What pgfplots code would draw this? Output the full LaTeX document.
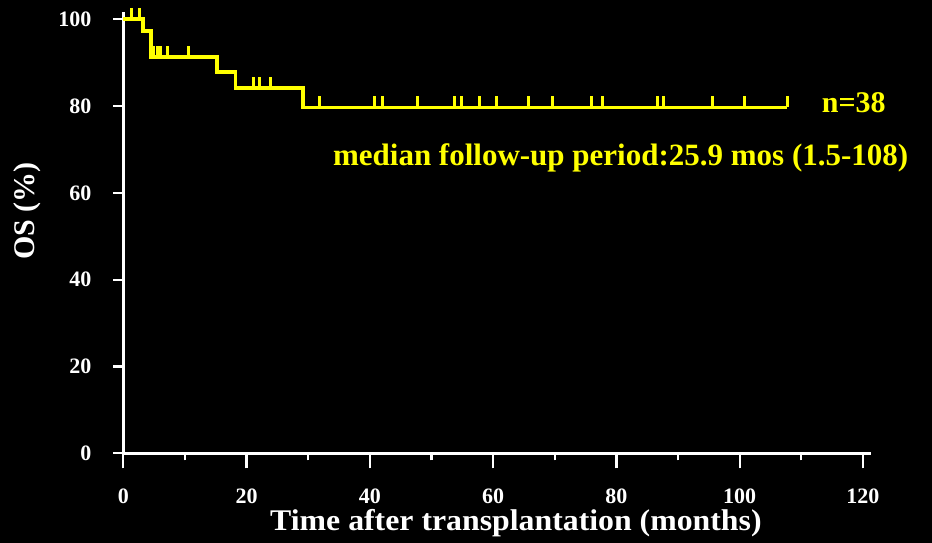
\documentclass[border=0pt]{standalone}
\usepackage{fontspec}
\setmainfont{Liberation Serif}
\usepackage{pgfplots}
\pgfplotsset{compat=1.18}
\usetikzlibrary{calc}
\definecolor{km}{RGB}{255,255,0}
\pgfdeclareplotmark{cens}{\pgfpathmoveto{\pgfpoint{0pt}{0pt}}\pgfpathlineto{\pgfpoint{0pt}{11pt}}\pgfusepathqstroke}
\begin{document}
\begin{tikzpicture}
\fill[black] (-123.3pt,-89.7pt) rectangle (808.7pt,453.3pt);
\begin{axis}[
  at={(0,0)}, anchor=south west, scale only axis,
  width=747.7pt, height=441.3pt,
  xmin=0, xmax=121.3, ymin=0, ymax=101.7,
  axis x line*=bottom, axis y line*=left,
  axis line style={white, line width=2.5pt},
  xtick={0,20,...,120}, ytick={0,20,...,100},
  minor xtick={10,30,...,110},
  tick align=outside,
  tick style={white, line width=2.2pt},
  xtick style={/pgfplots/major tick length=15pt, /pgfplots/minor tick length=7pt},
  ytick style={/pgfplots/major tick length=10pt},
  /pgf/number format/assume math mode=true,
  ticklabel style={font=\bfseries\fontsize{22}{26}\selectfont, text=white, inner sep=0pt},
  xticklabel style={anchor=north, yshift=-31pt},
  yticklabel style={anchor=east, xshift=-27.5pt},
  clip=false,
]
\addplot[km, line width=3.8pt, const plot, mark=none] coordinates {
  (0,100) (3.2,97.4) (4.5,91.4) (15.2,87.9) (18.2,84.1) (29.2,79.7) (107.7,79.7)
};
\addplot[km, line width=3pt, only marks, mark=cens] coordinates {
  (1.3,100) (2.6,100)
  (4.9,91.4) (5.6,91.4) (6.1,91.4) (7.2,91.4) (10.6,91.4)
  (21.1,84.1) (22.1,84.1) (23.9,84.1)
  (31.9,79.7) (40.7,79.7) (42.0,79.7) (47.7,79.7) (53.8,79.7) (54.8,79.7)
  (57.8,79.7) (60.6,79.7) (65.8,79.7) (69.7,79.7) (76.0,79.7) (77.8,79.7)
  (86.7,79.7) (87.7,79.7) (95.6,79.7) (100.7,79.7) (107.7,79.7)
};
\node[anchor=base west, text=km, font=\bfseries\fontsize{30}{36}\selectfont, inner sep=0pt] at (axis cs:113.3,78.6) {n=38};
\node[anchor=base west, text=km, font=\bfseries\fontsize{31}{37}\selectfont, inner sep=0pt] at (axis cs:34.0,66.4) {median follow-up period:25.9 mos (1.5-108)};
\node[anchor=base, text=white, font=\bfseries\fontsize{30}{36}\selectfont, inner sep=0pt, xscale=1.06] at ($(axis cs:63.7,0)+(0,-77pt)$) {Time after transplantation (months)};
\node[rotate=90, anchor=center, text=white, font=\bfseries\fontsize{30}{36}\selectfont, inner sep=0pt] at ($(rel axis cs:0,0.549)+(-96.3pt,0)$) {OS (\%)};
\end{axis}
\pgfresetboundingbox
\path[use as bounding box] (-123.3pt,-89.7pt) rectangle (808.7pt,453.3pt);
\end{tikzpicture}
\end{document}
